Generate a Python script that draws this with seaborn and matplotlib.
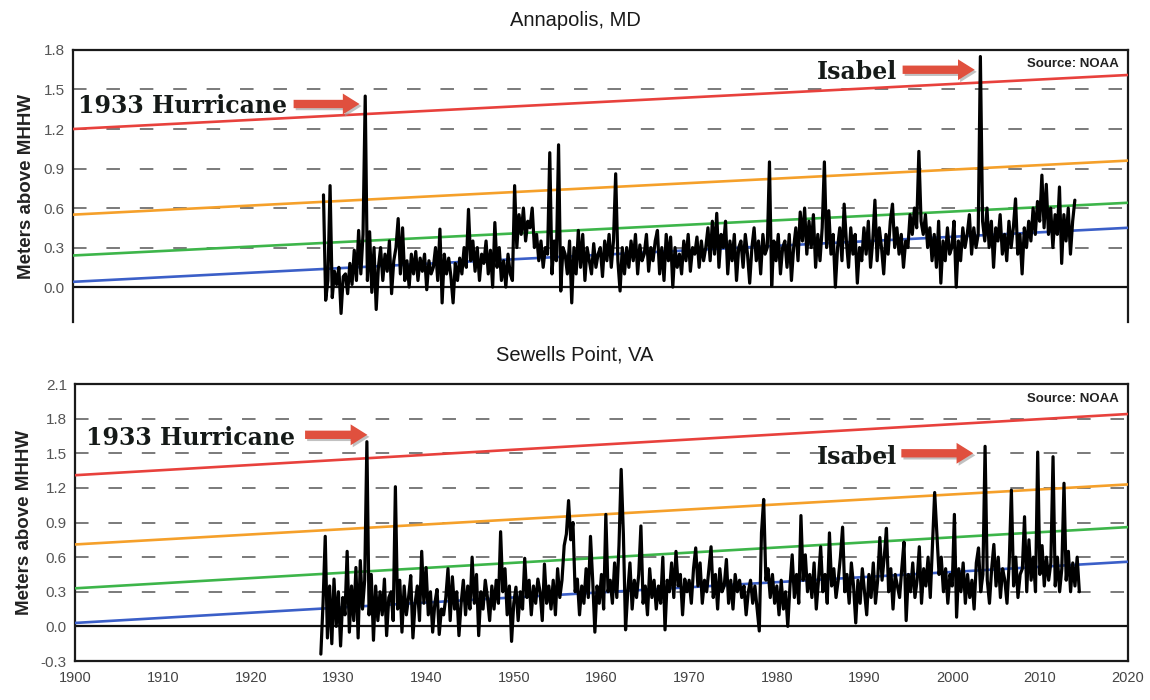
import numpy as np
import pandas as pd
import matplotlib
matplotlib.use("Agg")
import matplotlib.pyplot as plt
import seaborn as sns
from matplotlib import patheffects as pe
from matplotlib.ticker import FormatStrFormatter

# ---------------- data (metres above MHHW) ----------------
# Annapolis, MD : quarterly samples, first sample 1928.5
ann_start = 1928.5
ann_1920s = [0.70, -0.10,
             0.05, 0.77, -0.08, 0.12]
ann_1930s = [0.02, 0.15, -0.20, 0.08,
             0.10, -0.05, 0.18, 0.02,
             0.28, 0.05, 0.43, 0.10,
             0.40, 1.45, 0.05, 0.42,
             -0.04, 0.30, -0.17, 0.15,
             0.30, 0.05, 0.25, 0.12,
             0.35, -0.05, 0.20, 0.30,
             0.52, 0.10, 0.45, 0.05,
             0.20, 0.00, 0.25, 0.10,
             0.27, 0.05, 0.22, 0.12]
ann_1940s = [0.25, -0.02, 0.20, 0.10,
             0.15, 0.30, 0.05, 0.44,
             -0.12, 0.25, 0.10, 0.22,
             0.08, -0.12, 0.18, 0.05,
             0.22, 0.10, 0.30, 0.15,
             0.59, 0.20, 0.35, 0.12,
             0.30, 0.05, 0.25, 0.18,
             0.35, 0.10, 0.28, 0.00,
             0.49, 0.15, 0.30, 0.05,
             0.20, 0.00, 0.25, 0.10]
ann_1950s = [0.05, 0.77, 0.30, 0.55,
             0.40, 0.60, 0.35, 0.50,
             0.45, 0.60, 0.30, 0.40,
             0.20, 0.35, 0.15, 0.30,
             0.25, 1.02, 0.10, 0.35,
             0.20, 1.08, -0.03, 0.30,
             0.25, 0.10, 0.35, -0.12,
             0.30, 0.10, 0.43, 0.15,
             0.40, 0.05, 0.30, 0.20,
             0.10, 0.33, 0.15, 0.25]
ann_1960s = [0.30, 0.08, 0.35, 0.20,
             0.40, 0.15, 0.35, 0.86,
             0.20, -0.03, 0.30, 0.10,
             0.30, 0.15, 0.35, 0.20,
             0.40, 0.10, 0.32, 0.20,
             0.25, 0.40, 0.12, 0.30,
             0.20, 0.35, 0.43, 0.10,
             0.30, 0.05, 0.40, 0.20,
             0.38, 0.00, 0.30, 0.15,
             0.25, 0.10, 0.35, 0.20]
ann_1970s = [0.40, 0.12, 0.30, 0.25,
             0.38, 0.15, 0.35, 0.20,
             0.30, 0.45, 0.20, 0.50,
             0.25, 0.56, 0.15, 0.40,
             0.30, 0.50, 0.10, 0.35,
             0.20, 0.40, 0.05, 0.30,
             0.35, 0.15, 0.40, 0.25,
             0.03, 0.30, 0.45, 0.20,
             0.35, 0.10, 0.40, 0.25,
             0.30, 0.95, 0.01, 0.35]
ann_1980s = [0.20, 0.40, 0.10, 0.30,
             0.35, 0.15, 0.40, 0.05,
             0.30, 0.45, 0.20, 0.57,
             0.35, 0.60, 0.25, 0.50,
             0.30, 0.55, 0.15, 0.40,
             0.20, 0.45, 0.95, 0.30,
             0.58, 0.25, 0.40, 0.00,
             0.30, 0.45, 0.20, 0.63,
             0.35, 0.15, 0.45, 0.25,
             0.40, 0.03, 0.30, 0.20]
ann_1990s = [0.45, 0.25, 0.50, 0.15,
             0.35, 0.66, 0.20, 0.45,
             0.30, 0.10, 0.40, 0.25,
             0.50, 0.63, 0.30, 0.45,
             0.25, 0.40, 0.15, 0.35,
             0.30, 0.55, 0.40, 0.60,
             0.45, 1.03, 0.50, 0.40,
             0.55, 0.30, 0.45, 0.20,
             0.40, 0.15, 0.50, 0.03,
             0.35, 0.20, 0.45, 0.25]
ann_2000s = [0.30, 0.50, 0.00, 0.35,
             0.20, 0.45, 0.30, 0.40,
             0.55, 0.25, 0.45, 0.30,
             0.40, 1.75, 0.50, 0.35,
             0.60, 0.30, 0.50, 0.15,
             0.45, 0.35, 0.55, 0.25,
             0.40, 0.20, 0.50, 0.30,
             0.45, 0.67, 0.25, 0.40,
             0.10, 0.45, 0.30, 0.50,
             0.35, 0.60, 0.40, 0.65]
ann_2010s = [0.50, 0.85, 0.45, 0.78,
             0.40, 0.60, 0.30, 0.55,
             0.40, 0.76, 0.18, 0.55,
             0.35, 0.60, 0.25, 0.50,
             0.66]

# Sewells Point, VA : quarterly samples, first sample 1928.0
sew_start = 1928.0
sew_1920s = [-0.24, 0.20, 0.78, -0.10,
             0.35, -0.15, 0.41, 0.00]
sew_1930s = [0.30, -0.17, 0.25, 0.10,
             0.65, -0.05, 0.35, 0.05,
             0.51, -0.10, 0.57, 0.15,
             0.40, 1.60, 0.10, 0.45,
             -0.12, 0.35, 0.05, 0.30,
             0.10, 0.41, -0.08, 0.25,
             0.30, 0.05, 1.21, 0.15,
             0.40, -0.05, 0.35, 0.10,
             0.25, 0.44, -0.10, 0.20,
             0.35, 0.05, 0.65, 0.20]
sew_1940s = [0.51, 0.10, 0.30, -0.05,
             0.20, 0.32, -0.07, 0.15,
             0.10, 0.25, 0.50, 0.05,
             0.43, 0.15, 0.30, -0.08,
             0.20, 0.40, 0.10, 0.35,
             0.15, 0.60, 0.20, 0.45,
             -0.08, 0.30, 0.15, 0.40,
             0.25, 0.05, 0.35, 0.15,
             0.40, 0.20, 0.82, 0.30,
             0.50, 0.10, 0.35, -0.13]
sew_1950s = [0.20, 0.34, 0.05, 0.30,
             0.15, 0.59, 0.25, 0.40,
             0.10, 0.35, 0.20, 0.41,
             0.30, 0.05, 0.54, 0.20,
             0.35, 0.15, 0.40, 0.10,
             0.50, 0.25, 0.40, 0.70,
             0.80, 1.09, 0.75, 0.90,
             0.30, 0.41, 0.10, 0.35,
             0.20, 0.50, 0.25, 0.78,
             0.40, -0.05, 0.35, 0.20]
sew_1960s = [0.45, 0.15, 0.97, 0.30,
             0.40, 0.20, 0.55, 0.25,
             0.70, 1.36, 0.80, -0.03,
             0.30, 0.55, 0.15, 0.40,
             0.25, 0.45, 0.87, 0.20,
             0.35, 0.10, 0.50, 0.25,
             0.40, 0.15, 0.35, 0.20,
             0.60, -0.03, 0.40, 0.30,
             0.55, 0.25, 0.65, 0.35,
             0.45, 0.10, 0.41, 0.30]
sew_1970s = [0.40, 0.20, 0.50, 0.68,
             0.35, 0.55, 0.20, 0.40,
             0.30, 0.50, 0.69, 0.25,
             0.45, 0.15, 0.50, 0.30,
             0.35, 0.58, 0.20, 0.40,
             0.15, 0.45, 0.30, 0.40,
             0.25, 0.35, 0.10, 0.30,
             0.40, 0.20, 0.35, 0.15,
             -0.04, 0.81, 1.10, 0.40,
             0.50, 0.25, 0.45, 0.20]
sew_1980s = [0.35, 0.10, 0.40, 0.15,
             0.30, 0.00, 0.35, 0.62,
             0.25, 0.45, 0.20, 0.96,
             0.40, 0.62, 0.30, 0.45,
             0.25, 0.55, 0.15, 0.40,
             0.69, 0.30, 0.45, 0.20,
             0.81, 0.35, 0.50, 0.25,
             0.40, 0.60, 0.86, 0.30,
             0.45, 0.20, 0.55, 0.35,
             0.03, 0.40, 0.20, 0.50]
sew_1990s = [0.30, 0.10, 0.45, 0.25,
             0.55, 0.20, 0.40, 0.77,
             0.40, 0.60, 0.85, 0.30,
             0.50, 0.15, 0.45, 0.35,
             0.25, 0.50, 0.73, 0.05,
             0.45, 0.30, 0.55, 0.25,
             0.40, 0.69, 0.20, 0.50,
             0.35, 0.60, 0.25, 0.70,
             1.16, 0.80, 0.45, 0.60,
             0.30, 0.50, 0.20, 0.45]
sew_2000s = [0.35, 0.97, 0.08, 0.50,
             0.30, 0.55, 0.20, 0.45,
             0.25, 0.40, 0.15, 0.55,
             0.68, 0.30, 0.45, 1.56,
             0.40, 0.20, 0.50, 0.71,
             0.35, 0.60, 0.25, 0.50,
             0.40, 0.20, 0.55, 1.18,
             0.35, 0.60, 0.25, 0.45,
             0.50, 0.95, 0.30, 0.75,
             0.40, 0.60, 0.30, 1.51]
sew_2010s = [0.45, 0.70, 0.35, 0.60,
             0.40, 0.55, 1.47, 0.35,
             0.60, 0.30, 0.50, 1.24,
             0.40, 0.65, 0.30, 0.55,
             0.35, 0.60, 0.30]

# trend lines (value at 1900 and at 2020)
trend_years = [1900, 2020]
ann_red = [1.20, 1.61]
ann_orange = [0.55, 0.96]
ann_green = [0.24, 0.64]
ann_blue = [0.04, 0.45]
sew_red = [1.31, 1.84]
sew_orange = [0.71, 1.23]
sew_green = [0.33, 0.86]
sew_blue = [0.03, 0.56]

titles = ["Annapolis, MD", "Sewells Point, VA"]
ylabel = "Meters above MHHW"
ann_yticks = [0.0, 0.3, 0.6, 0.9, 1.2, 1.5, 1.8]
sew_yticks = [-0.3, 0.0, 0.3, 0.6, 0.9, 1.2, 1.5, 1.8, 2.1]
xticks = [1900, 1910, 1920, 1930, 1940, 1950, 1960, 1970, 1980, 1990, 2000, 2010, 2020]

# annotations: (text, x, y) and arrows (x0, y0, x1, y1)
ann_hurr = ("1933 Hurricane", 1900.6, 1.375)
ann_hurr_arrow = (1925.1, 1.39, 1932.6, 1.39)
ann_isabel = ("Isabel", 1984.7, 1.63)
ann_isabel_arrow = (1994.4, 1.65, 2002.6, 1.65)
ann_source = ("Source: NOAA", 2019.0, 1.69)
sew_hurr = ("1933 Hurricane", 1901.2, 1.635)
sew_hurr_arrow = (1926.2, 1.66, 1933.3, 1.66)
sew_isabel = ("Isabel", 1984.6, 1.465)
sew_isabel_arrow = (1994.2, 1.50, 2002.4, 1.50)
sew_source = ("Source: NOAA", 2019.0, 1.97)

# ---------------- build frames ----------------
ann_vals = np.array(ann_1920s + ann_1930s + ann_1940s + ann_1950s + ann_1960s +
                    ann_1970s + ann_1980s + ann_1990s + ann_2000s + ann_2010s)
sew_vals = np.array(sew_1920s + sew_1930s + sew_1940s + sew_1950s + sew_1960s +
                    sew_1970s + sew_1980s + sew_1990s + sew_2000s + sew_2010s)
ann_df = pd.DataFrame({"year": ann_start + 0.25 * np.arange(len(ann_vals)), "level": ann_vals})
sew_df = pd.DataFrame({"year": sew_start + 0.25 * np.arange(len(sew_vals)), "level": sew_vals})

# ---------------- style ----------------
sns.set_style("white")
plt.rcParams["font.family"] = ["Liberation Sans", "DejaVu Sans"]
plt.rcParams["axes.unicode_minus"] = False

RED, ORANGE, GREEN, BLUE = "#e8413c", "#f5a02a", "#3db54a", "#3b5fc8"
ARROW = "#e0503e"
TICKC = "#555555"

fig = plt.figure(figsize=(11.5, 7.0), dpi=100)
ax1 = fig.add_axes([0.0635, 0.540, 0.917, 0.3886])
ax2 = fig.add_axes([0.0655, 0.0557, 0.915, 0.3957])


def draw_panel(ax, df, reds, oranges, greens, blues, yticks, ylim):
    ax.set_xlim(1900, 2020)
    ax.set_ylim(*ylim)
    ax.set_yticks(yticks)
    ax.yaxis.set_major_formatter(FormatStrFormatter("%.1f"))
    ax.grid(False)
    for v in yticks:
        if v != 0.0:
            ax.axhline(v, color="#707070", lw=1.3, dashes=(7.5, 11), zorder=1)
    ax.axhline(0.0, color="#111111", lw=1.6, zorder=2)
    for vals, c in [(reds, RED), (oranges, ORANGE), (greens, GREEN), (blues, BLUE)]:
        sns.lineplot(x=trend_years, y=vals, ax=ax, color=c, lw=1.9, zorder=3,
                     estimator=None, sort=False)
    sns.lineplot(data=df, x="year", y="level", ax=ax, color="black", lw=2.3,
                 estimator=None, sort=False, zorder=4)
    ax.set_xlabel("")
    ax.set_ylabel(ylabel, fontsize=13.5, fontweight="bold", color="#222222", labelpad=6)
    ax.tick_params(axis="y", direction="out", length=5, width=1.2, color=TICKC,
                   labelcolor=TICKC, labelsize=11, pad=1)
    for s in ax.spines.values():
        s.set_color("#1a1a1a")
        s.set_linewidth(1.6)


draw_panel(ax1, ann_df, ann_red, ann_orange, ann_green, ann_blue, ann_yticks, (-0.265, 1.8))
draw_panel(ax2, sew_df, sew_red, sew_orange, sew_green, sew_blue, sew_yticks, (-0.3, 2.1))

ax1.spines["bottom"].set_visible(False)
ax1.set_xticks([])
ax2.set_xticks(xticks)
ax2.tick_params(axis="x", direction="out", length=5, width=1.2, color=TICKC,
                labelcolor="#444444", labelsize=10.5, pad=2)

fig.text(0.5, 0.971, titles[0], ha="center", va="center", fontsize=14.5, color="#1a1a1a")
fig.text(0.5, 0.493, titles[1], ha="center", va="center", fontsize=14.5, color="#1a1a1a")

shadow = [pe.SimplePatchShadow(offset=(1.5, -1.5), shadow_rgbFace="#999999", alpha=0.6), pe.Normal()]


def annotate(ax, hurr, hurr_arrow, isabel, isabel_arrow, source):
    for (txt, x, y) in (hurr, isabel):
        ax.text(x, y, txt, ha="left", va="center", fontsize=17, fontweight="bold",
                family=["DejaVu Serif"], color="#151a18", zorder=6)
    for (x0, y0, x1, y1) in (hurr_arrow, isabel_arrow):
        ax.annotate("", xy=(x1, y1), xytext=(x0, y0),
                    arrowprops=dict(arrowstyle="simple,head_width=1.5,head_length=1.2,tail_width=0.6",
                                    color=ARROW, lw=0, shrinkA=0, shrinkB=0,
                                    path_effects=shadow), zorder=6)
    txt, x, y = source
    ax.text(x, y, txt, ha="right", va="center", fontsize=9.5, fontweight="bold",
            color="#222222", zorder=6)


annotate(ax1, ann_hurr, ann_hurr_arrow, ann_isabel, ann_isabel_arrow, ann_source)
annotate(ax2, sew_hurr, sew_hurr_arrow, sew_isabel, sew_isabel_arrow, sew_source)

fig.savefig("out.png", dpi=100, facecolor="white")
